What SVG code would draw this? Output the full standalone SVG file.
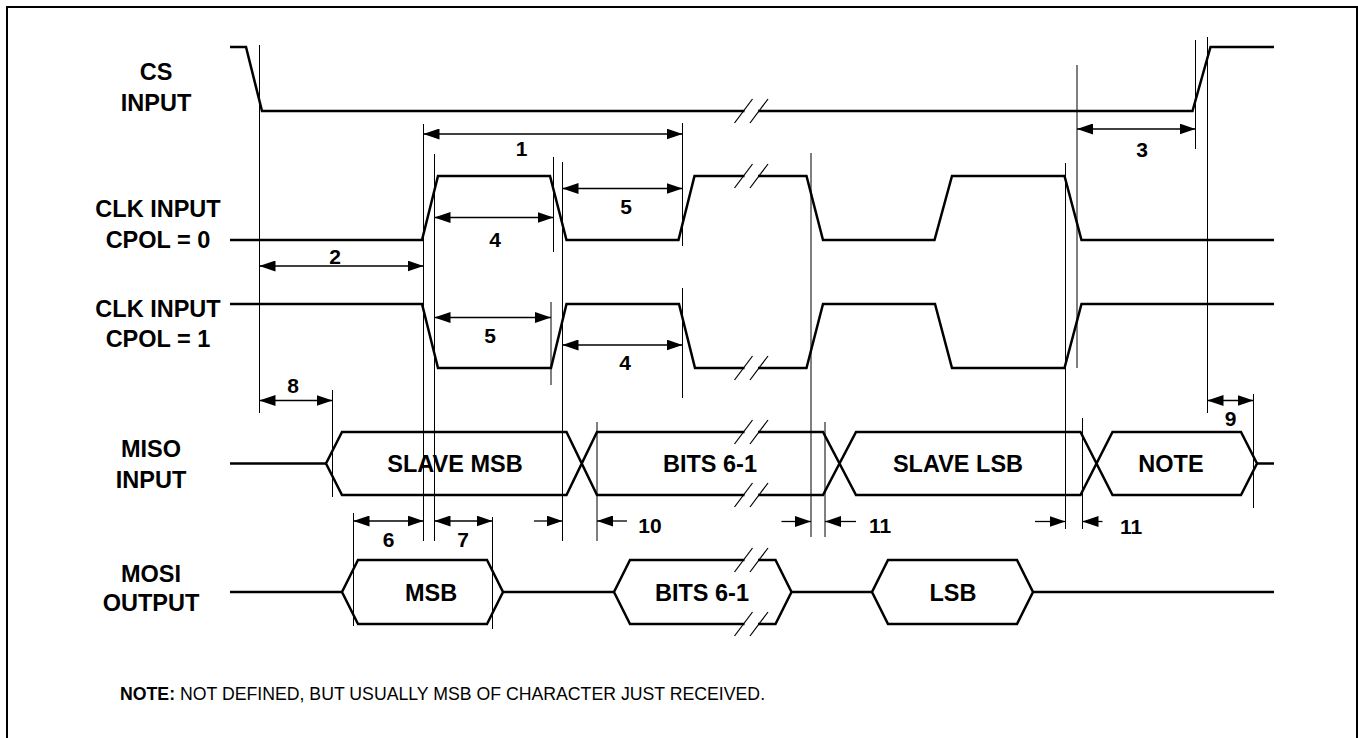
<svg xmlns="http://www.w3.org/2000/svg" width="1358" height="738" viewBox="0 0 1358 738">
<defs>
<style>
.sig{fill:none;stroke:#000;stroke-width:2.5;stroke-linejoin:miter}
.gap{fill:none;stroke:#fff;stroke-width:5}
.brk{fill:none;stroke:#000;stroke-width:1.2}
.vl{fill:none;stroke:#000;stroke-width:1}
.ar{fill:none;stroke:#000;stroke-width:1.3}
.lbl{font-family:"Liberation Sans",Arial,sans-serif;font-weight:bold;font-size:23.5px;text-anchor:middle;fill:#000}
.num{font-family:"Liberation Sans",Arial,sans-serif;font-weight:bold;font-size:21px;text-anchor:middle;fill:#000}
.note{font-family:"Liberation Sans",Arial,sans-serif;font-size:17.7px;fill:#000}
</style>
<marker id="ah" viewBox="0 0 16 11" markerWidth="16" markerHeight="11" refX="16" refY="5.5" orient="auto-start-reverse" markerUnits="userSpaceOnUse">
<path d="M0,0 L16,5.5 L0,11 Z" fill="#000"/>
</marker>
</defs>
<rect x="7" y="7" width="1350" height="760" fill="#fff" stroke="#000" stroke-width="2"/>

<g id="labels">
<text class="lbl" x="156" y="80">CS</text>
<text class="lbl" x="156" y="110.5">INPUT</text>
<text class="lbl" x="158" y="217">CLK INPUT</text>
<text class="lbl" x="158" y="247.5">CPOL = 0</text>
<text class="lbl" x="158" y="316.5">CLK INPUT</text>
<text class="lbl" x="158" y="347">CPOL = 1</text>
<text class="lbl" x="151" y="457">MISO</text>
<text class="lbl" x="151" y="487.5">INPUT</text>
<text class="lbl" x="151" y="582">MOSI</text>
<text class="lbl" x="151" y="611">OUTPUT</text>
</g>

<g id="cs">
<polyline class="sig" points="230,47 246,47 262,111 1192.5,111 1210.5,47 1274,47"/>
<line class="gap" x1="744.5" y1="111" x2="758" y2="111"/>
<line class="brk" x1="734.5" y1="123" x2="752.5" y2="99"/>
<line class="brk" x1="750" y1="123" x2="768" y2="99"/>
</g>

<g id="clk-cpol0">
<polyline class="sig" points="230,240 422,240 438,176 550,176 566.5,240 678.5,240 694.5,176 806.5,176 823,240 934.5,240 952,176 1064.5,176 1081.5,240 1274,240"/>
<line class="gap" x1="744.5" y1="176" x2="758" y2="176"/>
<line class="brk" x1="734.5" y1="188" x2="752.5" y2="164"/>
<line class="brk" x1="750" y1="188" x2="768" y2="164"/>
</g>

<g id="clk-cpol1">
<polyline class="sig" points="230,304 422,304 438,368 551,368 566.5,304 679,304 695,368 806.5,368 823,304 935,304 952,368 1064.5,368 1081.5,304 1274,304"/>
<line class="gap" x1="744.5" y1="368" x2="758" y2="368"/>
<line class="brk" x1="734.5" y1="380" x2="752.5" y2="356"/>
<line class="brk" x1="750" y1="380" x2="768" y2="356"/>
</g>

<g id="miso">
<polyline class="sig" points="230,463.5 326,463.5"/>
<polyline class="sig" points="1257,463.5 1274,463.5"/>
<path class="sig" d="M326,463.5 L342,432 L566.5,432 L597,495 L823,495 L856,432 L1080.5,432 L1112.5,495 L1241,495 L1257,463.5 L1241,432 L1112.5,432 L1080.5,495 L856,495 L823,432 L597,432 L566.5,495 L342,495 Z"/>
<line class="gap" x1="744.5" y1="432" x2="758" y2="432"/>
<line class="brk" x1="734.5" y1="444" x2="752.5" y2="420"/>
<line class="brk" x1="750" y1="444" x2="768" y2="420"/>
<line class="gap" x1="744.5" y1="495" x2="758" y2="495"/>
<line class="brk" x1="734.5" y1="507" x2="752.5" y2="483"/>
<line class="brk" x1="750" y1="507" x2="768" y2="483"/>
<text class="lbl" x="455" y="472">SLAVE MSB</text>
<text class="lbl" x="710" y="472">BITS 6-1</text>
<text class="lbl" x="958" y="472">SLAVE LSB</text>
<text class="lbl" x="1171" y="472">NOTE</text>
</g>

<g id="mosi">
<polyline class="sig" points="230,592 342,592"/>
<path class="sig" d="M342,592 L358,560 L487,560 L503,592 L487,624 L358,624 Z"/>
<polyline class="sig" points="503,592 614,592"/>
<path class="sig" d="M614,592 L630,560 L775.5,560 L791.5,592 L775.5,624 L630,624 Z"/>
<polyline class="sig" points="791.5,592 872,592"/>
<path class="sig" d="M872,592 L888,560 L1017,560 L1033,592 L1017,624 L888,624 Z"/>
<polyline class="sig" points="1033,592 1274,592"/>
<line class="gap" x1="744.5" y1="560" x2="758" y2="560"/>
<line class="brk" x1="734.5" y1="572" x2="752.5" y2="548"/>
<line class="brk" x1="750" y1="572" x2="768" y2="548"/>
<line class="gap" x1="744.5" y1="624" x2="758" y2="624"/>
<line class="brk" x1="734.5" y1="636" x2="752.5" y2="612"/>
<line class="brk" x1="750" y1="636" x2="768" y2="612"/>
<text class="lbl" x="431" y="600.5">MSB</text>
<text class="lbl" x="702" y="600.5">BITS 6-1</text>
<text class="lbl" x="953" y="600.5">LSB</text>
</g>

<g id="connectors">
<g id="guides">
<line class="vl" x1="259.5" y1="45" x2="259.5" y2="413"/>
<line class="vl" x1="423.5" y1="124" x2="423.5" y2="541"/>
<line class="vl" x1="434.5" y1="154" x2="434.5" y2="541"/>
<line class="vl" x1="553.5" y1="157" x2="553.5" y2="252"/>
<line class="vl" x1="551" y1="302" x2="551" y2="385"/>
<line class="vl" x1="562.5" y1="162" x2="562.5" y2="541"/>
<line class="vl" x1="682.5" y1="123" x2="682.5" y2="246"/>
<line class="vl" x1="682.5" y1="288" x2="682.5" y2="398"/>
<line class="vl" x1="811" y1="153" x2="811" y2="537"/>
<line class="vl" x1="825" y1="422" x2="825" y2="537"/>
<line class="vl" x1="1065.5" y1="163" x2="1065.5" y2="529"/>
<line class="vl" x1="1077" y1="65" x2="1077" y2="368"/>
<line class="vl" x1="1082.5" y1="418" x2="1082.5" y2="529"/>
<line class="vl" x1="1195.5" y1="40" x2="1195.5" y2="149"/>
<line class="vl" x1="1207.5" y1="37" x2="1207.5" y2="413"/>
<line class="vl" x1="1253.5" y1="394" x2="1253.5" y2="508"/>
<line class="vl" x1="332.5" y1="390" x2="332.5" y2="497"/>
<line class="vl" x1="353.5" y1="513" x2="353.5" y2="626"/>
<line class="vl" x1="492.5" y1="517" x2="492.5" y2="629"/>
<line class="vl" x1="597" y1="422" x2="597" y2="541"/>
</g>
<g id="dims">
<line class="ar" x1="423.5" y1="134" x2="682.5" y2="134" marker-start="url(#ah)" marker-end="url(#ah)"/>
<line class="ar" x1="259.5" y1="266" x2="423.5" y2="266" marker-start="url(#ah)" marker-end="url(#ah)"/>
<line class="ar" x1="434.5" y1="217.5" x2="553.5" y2="217.5" marker-start="url(#ah)" marker-end="url(#ah)"/>
<line class="ar" x1="562.5" y1="188.5" x2="682.5" y2="188.5" marker-start="url(#ah)" marker-end="url(#ah)"/>
<line class="ar" x1="1077" y1="129" x2="1195.5" y2="129" marker-start="url(#ah)" marker-end="url(#ah)"/>
<line class="ar" x1="434.5" y1="317.5" x2="551" y2="317.5" marker-start="url(#ah)" marker-end="url(#ah)"/>
<line class="ar" x1="562.5" y1="345" x2="682.5" y2="345" marker-start="url(#ah)" marker-end="url(#ah)"/>
<line class="ar" x1="259.5" y1="400.5" x2="332.5" y2="400.5" marker-start="url(#ah)" marker-end="url(#ah)"/>
<line class="ar" x1="1207.5" y1="400.5" x2="1253.5" y2="400.5" marker-start="url(#ah)" marker-end="url(#ah)"/>
<line class="ar" x1="353.5" y1="521" x2="423.5" y2="521" marker-start="url(#ah)" marker-end="url(#ah)"/>
<line class="ar" x1="434.5" y1="521" x2="492.5" y2="521" marker-start="url(#ah)" marker-end="url(#ah)"/>
</g>
<g id="single-arrows">
<line class="ar" x1="534" y1="521" x2="562.5" y2="521" marker-end="url(#ah)"/>
<line class="ar" x1="627" y1="521" x2="597" y2="521" marker-end="url(#ah)"/>
<line class="ar" x1="781.5" y1="521.5" x2="811" y2="521.5" marker-end="url(#ah)"/>
<line class="ar" x1="856" y1="521.5" x2="825" y2="521.5" marker-end="url(#ah)"/>
<line class="ar" x1="1035" y1="521.5" x2="1065.5" y2="521.5" marker-end="url(#ah)"/>
<line class="ar" x1="1102.5" y1="521.5" x2="1082.5" y2="521.5" marker-end="url(#ah)"/>
</g>
</g>

<g id="dim-labels">
<text class="num" x="521.5" y="155.5">1</text>
<text class="num" x="335" y="263.5">2</text>
<text class="num" x="1142" y="156.5">3</text>
<text class="num" x="495" y="246.5">4</text>
<text class="num" x="626" y="213.5">5</text>
<text class="num" x="490" y="342.5">5</text>
<text class="num" x="625" y="369.5">4</text>
<text class="num" x="293" y="392.5">8</text>
<text class="num" x="1230.5" y="426">9</text>
<text class="num" x="388.5" y="546.5">6</text>
<text class="num" x="463" y="546.5">7</text>
<text class="num" x="650" y="533">10</text>
<text class="num" x="880" y="532.5">11</text>
<text class="num" x="1131" y="533.5">11</text>
</g>

<g id="note">
<text class="note" x="120" y="700"><tspan font-weight="bold">NOTE:</tspan> NOT DEFINED, BUT USUALLY MSB OF CHARACTER JUST RECEIVED.</text>
</g>
</svg>
